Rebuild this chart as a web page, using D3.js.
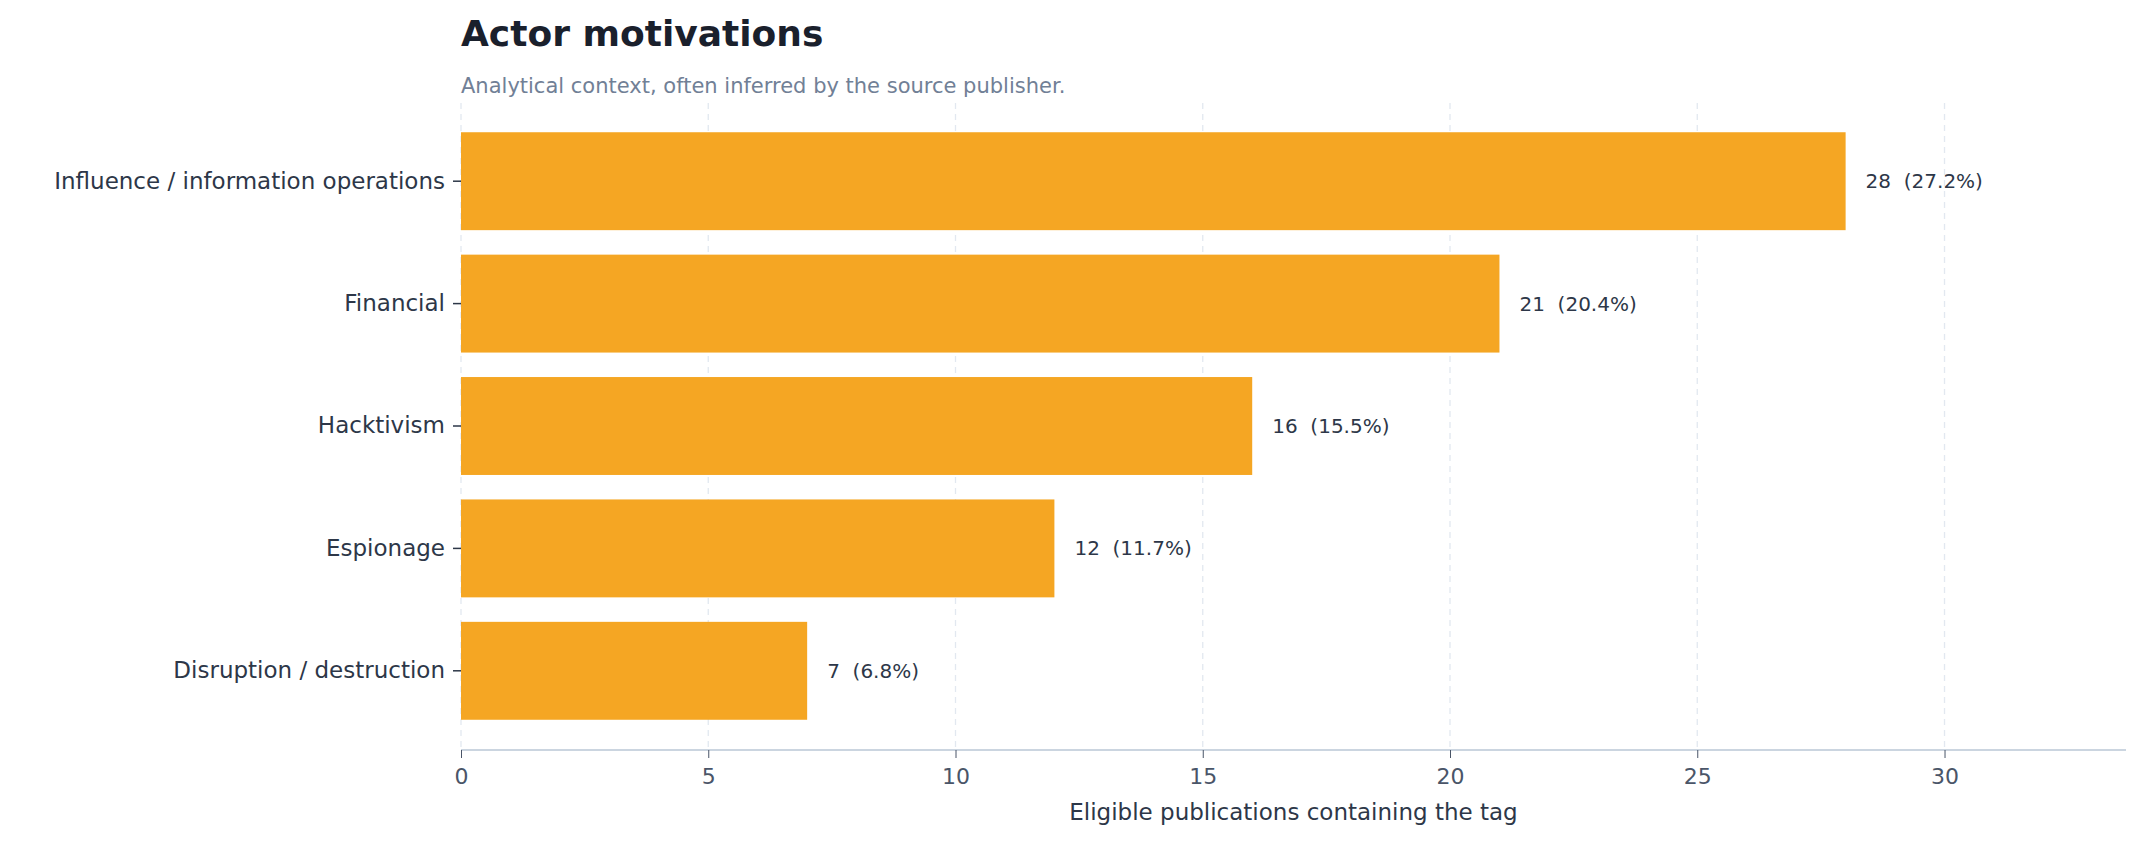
<!DOCTYPE html>
<html><head><meta charset="utf-8">
<script src="https://cdn.jsdelivr.net/npm/d3@7/dist/d3.min.js"></script>
<style>body{margin:0;background:#fff}svg{font-family:"DejaVu Sans",sans-serif}</style>
</head><body>
<script>
const categories = ["Influence / information operations","Financial","Hacktivism","Espionage","Disruption / destruction"];
const counts = [28,21,16,12,7];
const shares = ["27.2%","20.4%","15.5%","11.7%","6.8%"];
const xTicks = [0,5,10,15,20,25,30];

const W=2142,H=842,L=461,R=2126,T=103,B=750;
const svg=d3.select("body").append("svg").attr("width",W).attr("height",H);
const x=d3.scaleLinear().domain([0,33.67]).range([L,R]);
const y=d3.scaleBand().domain(categories).range([120,732]).paddingInner(0.2).paddingOuter(0.1);

svg.append("g").selectAll("line").data(xTicks).join("line")
 .attr("x1",d=>x(d)).attr("x2",d=>x(d)).attr("y1",T).attr("y2",B)
 .attr("stroke","#e2e8f0").attr("stroke-dasharray","6,5").attr("stroke-width",1.3);

svg.append("g").selectAll("rect").data(counts).join("rect")
 .attr("x",x(0)).attr("y",(d,i)=>y(categories[i])).attr("height",y.bandwidth())
 .attr("width",d=>x(d)-x(0)).attr("fill","#f5a623");

svg.append("g").selectAll("text").data(counts).join("text")
 .attr("x",d=>x(d)+20).attr("y",(d,i)=>y(categories[i])+y.bandwidth()/2).attr("dy","0.35em")
 .attr("font-size",20).attr("fill","#2d3748").attr("xml:space","preserve")
 .text((d,i)=>d+"  ("+shares[i]+")");

const ya=svg.append("g").attr("transform",`translate(${L},0)`).call(d3.axisLeft(y).tickSize(8).tickPadding(8));
ya.select(".domain").remove();
ya.selectAll("line").attr("stroke","#2d3748").attr("stroke-width",1.5);
ya.selectAll("text").attr("font-size",23).attr("fill","#2d3748").attr("font-family","DejaVu Sans");

const xa=svg.append("g").attr("transform",`translate(0,${B})`).call(d3.axisBottom(x).tickValues(xTicks).tickSize(8).tickPadding(10));
xa.select(".domain").attr("stroke","#cbd5e0").attr("stroke-width",2).attr("d",`M${L},0H${R}`);
xa.selectAll("line").attr("stroke","#4a5568");
xa.selectAll("text").attr("font-size",22).attr("fill","#4a5568").attr("font-family","DejaVu Sans");

svg.append("text").attr("x",(L+R)/2).attr("y",820).attr("text-anchor","middle")
 .attr("font-size",23).attr("fill","#2d3748").text("Eligible publications containing the tag");
svg.append("text").attr("x",L).attr("y",46).attr("font-size",36).attr("font-weight","bold")
 .attr("fill","#1a202c").text("Actor motivations");
svg.append("text").attr("x",L).attr("y",93).attr("font-size",21).attr("fill","#718096")
 .text("Analytical context, often inferred by the source publisher.");
</script>
</body></html>
